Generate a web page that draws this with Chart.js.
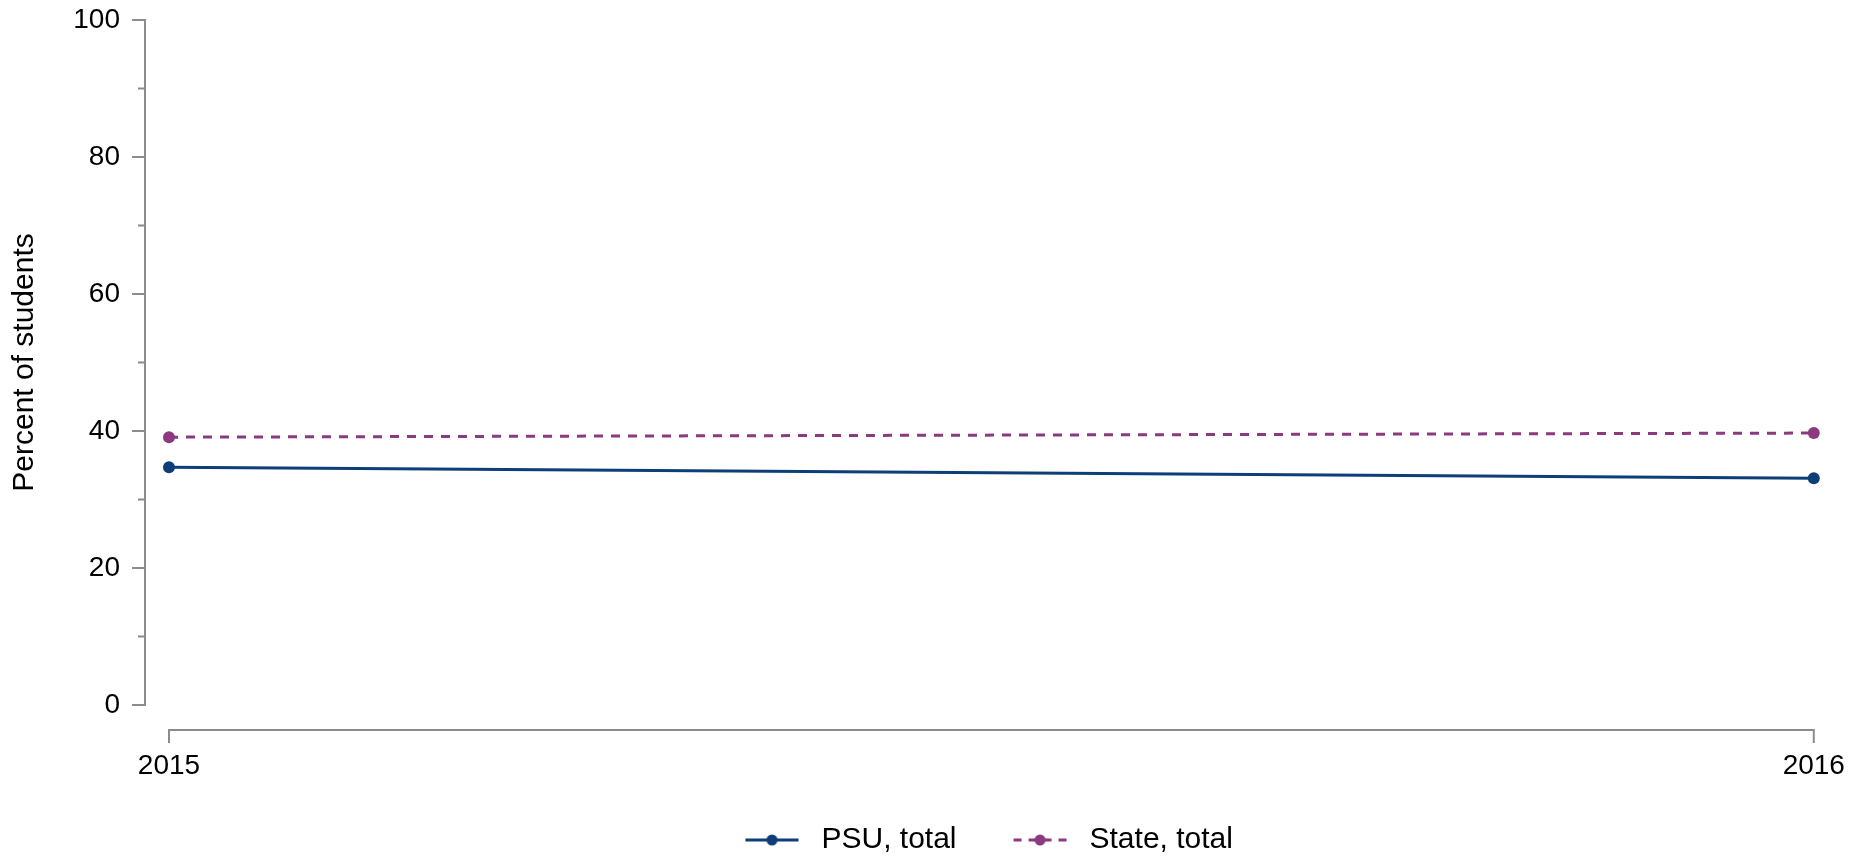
<!DOCTYPE html>
<html lang="en">

<head>
    <meta charset="UTF-8">
    <title>Percent of students</title>
    <style>
        body {
            margin: 0;
            background: #fff;
        }

        .chart-box {
            width: 1873px;
            height: 856px;
        }
    </style>
</head>

<body>
    <div class="chart-box">
        <canvas id="line-chart"></canvas>
    </div>

    <script src="https://cdn.jsdelivr.net/npm/chart.js"></script>
    <script>
        // data
        var years = [2015, 2016];
        var psuTotal = [34.7, 33.1];
        var stateTotal = [39.1, 39.7];
        var yTicks = [0, 20, 40, 60, 80, 100];
        var yMinorTicks = [10, 30, 50, 70, 90];
        var seriesNames = ["PSU, total", "State, total"];

        var navy = '#0d3e78';
        var purple = '#8b3a80';
        var axisColor = '#8c8c8c';

        Chart.defaults.font.family = "'Liberation Sans', Arial, sans-serif";
        Chart.defaults.color = '#000';

        // small line + dot picture used as the legend symbol
        function legendSymbol(color, dash) {
            var c = document.createElement('canvas');
            c.width = 108;
            c.height = 14;
            var g = c.getContext('2d');
            g.strokeStyle = color;
            g.lineWidth = 3;
            g.setLineDash(dash);
            g.beginPath();
            g.moveTo(47, 7);
            g.lineTo(100, 7);
            g.stroke();
            g.fillStyle = color;
            g.beginPath();
            g.arc(73.5, 7, 5.5, 0, Math.PI * 2);
            g.fill();
            return c;
        }

        // Stata style axes, set off from the plot region
        var offsetAxes = {
            id: 'offsetAxes',
            beforeDatasetsDraw: function (chart) {
                var ctx = chart.ctx;
                var area = chart.chartArea;
                var x = chart.scales.x;
                var y = chart.scales.y;
                var axisX = area.left - 24;
                var axisY = area.bottom + 25;
                ctx.save();
                ctx.strokeStyle = axisColor;
                ctx.lineWidth = 2;
                ctx.beginPath();
                ctx.moveTo(axisX, y.getPixelForValue(100) - 1);
                ctx.lineTo(axisX, y.getPixelForValue(0) + 1);
                yTicks.forEach(function (v) {
                    var py = y.getPixelForValue(v);
                    ctx.moveTo(axisX - 13, py);
                    ctx.lineTo(axisX + 1, py);
                });
                yMinorTicks.forEach(function (v) {
                    var py = y.getPixelForValue(v);
                    ctx.moveTo(axisX - 7, py);
                    ctx.lineTo(axisX, py);
                });
                var x0 = x.getPixelForValue(years[0]);
                var x1 = x.getPixelForValue(years[years.length - 1]);
                ctx.moveTo(x0 - 1, axisY);
                ctx.lineTo(x1 + 1, axisY);
                years.forEach(function (v) {
                    var px = x.getPixelForValue(v);
                    ctx.moveTo(px, axisY - 1);
                    ctx.lineTo(px, axisY + 13);
                });
                ctx.stroke();
                ctx.restore();
            }
        };

        var symbols = [legendSymbol(navy, []), legendSymbol(purple, [8, 7])];

        var data = {
            datasets: [{
                label: seriesNames[0],
                data: years.map(function (yr, i) { return { x: yr, y: psuTotal[i] }; }),
                borderColor: navy,
                backgroundColor: navy,
                borderWidth: 3,
                pointRadius: 6,
                pointBorderWidth: 0,
                clip: false,
            }, {
                label: seriesNames[1],
                data: years.map(function (yr, i) { return { x: yr, y: stateTotal[i] }; }),
                borderColor: purple,
                backgroundColor: purple,
                borderWidth: 3,
                borderDash: [9, 8],
                pointRadius: 6,
                pointBorderWidth: 0,
                clip: false,
            }]
        };

        var options = {
            responsive: true,
            maintainAspectRatio: false,
            animation: false,
            layout: {
                autoPadding: false,
                // negative right padding only moves the legend over the plot region
                padding: { top: 20, right: -58.4, bottom: -9, left: 0 }
            },
            elements: {
                point: { pointStyle: 'circle' },
                line: { tension: 0 }
            },
            plugins: {
                tooltip: { enabled: false },
                legend: {
                    position: 'bottom',
                    labels: {
                        usePointStyle: true,
                        pointStyleWidth: 108,
                        padding: 10,
                        font: { size: 30 },
                        generateLabels: function (chart) {
                            return chart.data.datasets.map(function (ds, i) {
                                return {
                                    text: ds.label,
                                    pointStyle: symbols[i],
                                    datasetIndex: i,
                                    fontColor: '#000',
                                    lineWidth: 0
                                };
                            });
                        }
                    }
                }
            },
            scales: {
                x: {
                    type: 'linear',
                    min: 2015,
                    max: 2016.036,
                    grid: { display: false, drawTicks: true, tickLength: 44 },
                    border: { display: false },
                    afterBuildTicks: function (scale) {
                        scale.ticks = years.map(function (v) { return { value: v }; });
                    },
                    afterFit: function (scale) {
                        scale.height = 110;
                    },
                    ticks: {
                        padding: 0,
                        maxRotation: 0,
                        autoSkip: false,
                        font: { size: 28 },
                        callback: function (v) { return String(v); }
                    }
                },
                y: {
                    min: 0,
                    max: 100,
                    grid: { display: false, drawTicks: true, tickLength: 49 },
                    border: { display: false },
                    afterFit: function (scale) {
                        scale.width = 169;
                    },
                    ticks: {
                        stepSize: 20,
                        padding: 0,
                        font: { size: 28 }
                    },
                    title: {
                        display: true,
                        text: 'Percent of students',
                        font: { size: 30 },
                        padding: { top: 7, bottom: 0 }
                    }
                }
            }
        };

        var ctx = document.getElementById("line-chart").getContext("2d");
        var myLineChart = new Chart(ctx, {
            type: 'line',
            data: data,
            options: options,
            plugins: [offsetAxes]
        });
    </script>
</body>

</html>
